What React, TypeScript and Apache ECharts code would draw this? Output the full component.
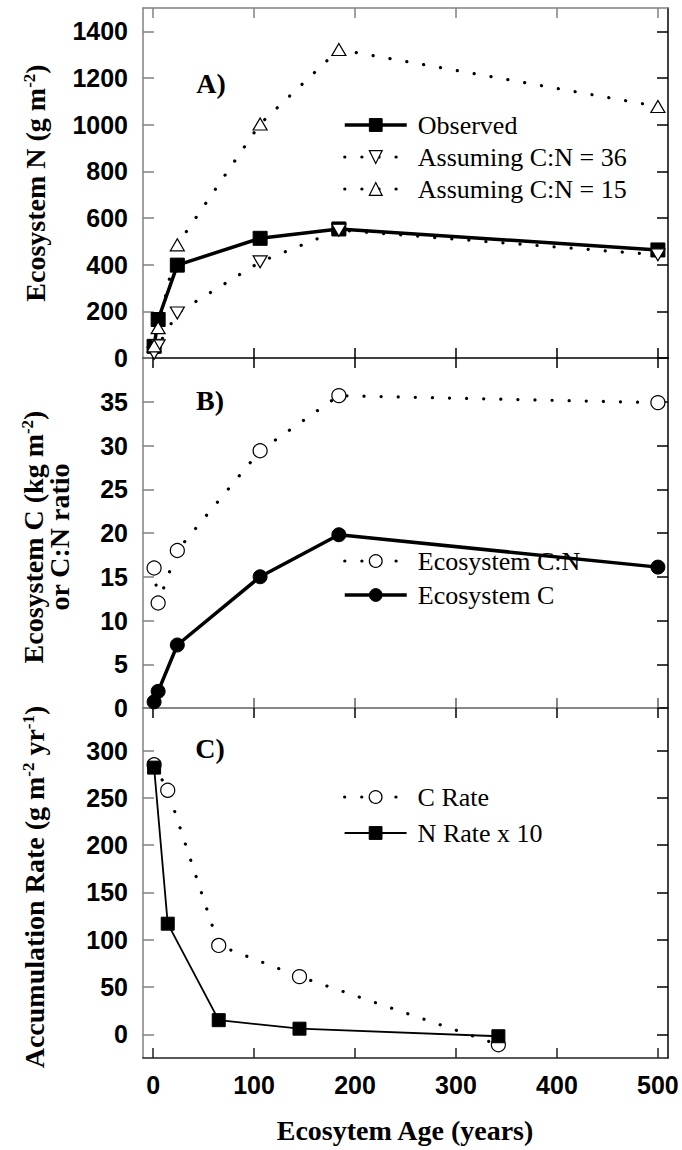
import React, { useEffect, useRef } from 'react';
import * as echarts from 'echarts';

// ---------- data ----------
const ages = [1, 5, 24, 106, 184, 500];
const nObserved = [50, 165, 398, 513, 553, 463];
const nCN36 = [20, 52, 193, 412, 548, 442];
const nCN15 = [52, 130, 485, 1003, 1322, 1078];
const ecoCN = [16.0, 12.0, 18.0, 29.4, 35.7, 34.9];
const ecoC = [0.7, 1.9, 7.2, 15.0, 19.8, 16.1];
const rateAges = [1, 14.5, 65, 145, 342];
const cRate = [285, 258, 94, 61, -11];
const nRate10 = [282, 117, 15, 6, -2];

const xTicks = [0, 100, 200, 300, 400, 500];
const yTicksA = [0, 200, 400, 600, 800, 1000, 1200, 1400];
const yTicksB = [0, 5, 10, 15, 20, 25, 30, 35];
const yTicksC = [0, 50, 100, 150, 200, 250, 300];

const SANS = '"Liberation Sans", Arial, sans-serif';
const SERIF = '"Liberation Serif", "Times New Roman", serif';

const pair = (xs: number[], ys: number[]) => xs.map((x, i) => [x, ys[i]]);

const GRID_LEFT = 143;
const GRID_W = 525;
const GRID_H = 350;
const GRID_TOPS = [8, 358, 708];

const dotted = { color: '#000', width: 3.2, type: [0.1, 17] as any, cap: 'round' as const };
const hollow = { color: '#fff', borderColor: '#000', borderWidth: 1.2 };
const filled = { color: '#000', borderColor: '#000', borderWidth: 1 };

const plain = (v: number) => String(v);

function xAxisDef(gridIndex: number, position: 'top' | 'bottom', opts: { label?: boolean; line?: boolean; lineColor?: string }) {
  return {
    type: 'value',
    gridIndex,
    position,
    min: -10,
    max: 510,
    axisLine: { show: opts.line !== false, onZero: false, lineStyle: { color: opts.lineColor || '#000', width: 1.5 } },
    axisTick: { show: true, inside: true, length: 10, customValues: xTicks, lineStyle: { color: opts.lineColor || '#000', width: 1.5 } },
    axisLabel: {
      show: !!opts.label,
      customValues: xTicks,
      formatter: plain,
      margin: 14,
      color: '#000',
      fontFamily: SANS,
      fontWeight: 'bold',
      fontSize: 25,
    },
    splitLine: { show: false },
  };
}

function yAxisDef(gridIndex: number, position: 'left' | 'right', min: number, max: number, ticks: number[], label: boolean) {
  const color = position === 'left' ? '#808080' : '#000';
  return {
    type: 'value',
    gridIndex,
    position,
    min,
    max,
    axisLine: { show: true, onZero: false, lineStyle: { color, width: 1.5 } },
    axisTick: { show: true, inside: true, length: 11, customValues: ticks, lineStyle: { color, width: 1.5 } },
    axisLabel: {
      show: label,
      customValues: ticks,
      formatter: plain,
      margin: 15,
      color: '#000',
      fontFamily: SANS,
      fontWeight: 'bold',
      fontSize: 25,
    },
    splitLine: { show: false },
  };
}

function legendDef(names: string[], top: number, gap: number) {
  return {
    data: names,
    orient: 'vertical',
    left: 338,
    top,
    itemWidth: 62,
    itemHeight: 16,
    itemGap: gap,
    selectedMode: false,
    lineStyle: { width: 'inherit' },
    itemStyle: { borderWidth: 'inherit' },
    textStyle: { fontFamily: SERIF, fontSize: 26, color: '#000', lineHeight: 26, padding: [0, 0, 0, 6] },
  };
}

const subTitle = (text: string, x: number, y: number) => ({
  type: 'text',
  x,
  y,
  rotation: Math.PI / 2,
  silent: true,
  style: {
    text,
    fontFamily: SERIF,
    fontWeight: 'bold',
    fontSize: 28,
    fill: '#000',
    align: 'center',
    verticalAlign: 'middle',
    rich: {
      sup: { fontFamily: SERIF, fontWeight: 'bold', fontSize: 17, verticalAlign: 'top', fill: '#000' },
    },
  },
});

const panelLabel = (text: string, x: number, y: number) => ({
  type: 'text',
  x,
  y,
  silent: true,
  style: { text, fontFamily: SERIF, fontWeight: 'bold', fontSize: 28, fill: '#000', align: 'center', verticalAlign: 'middle' },
});

export default function App() {
  const ref = useRef<HTMLDivElement>(null);
  useEffect(() => {
    if (!ref.current) return;
    const chart = echarts.init(ref.current, undefined, { renderer: 'svg' });
    const option: any = {
      animation: false,
      backgroundColor: '#fff',
      grid: GRID_TOPS.map((t) => ({ left: GRID_LEFT, top: t, width: GRID_W, height: GRID_H })),
      xAxis: [
        xAxisDef(0, 'bottom', { line: true, lineColor: '#000' }),
        xAxisDef(0, 'top', { line: true, lineColor: '#808080' }),
        xAxisDef(1, 'bottom', { line: true, lineColor: '#606060' }),
        xAxisDef(1, 'top', { line: false, lineColor: '#000' }),
        xAxisDef(2, 'bottom', { line: true, lineColor: '#222', label: true }),
        xAxisDef(2, 'top', { line: false, lineColor: '#000' }),
      ],
      yAxis: [
        yAxisDef(0, 'left', 0, 1500, yTicksA, true),
        yAxisDef(0, 'right', 0, 1500, yTicksA, false),
        yAxisDef(1, 'left', 0, 40, yTicksB, true),
        yAxisDef(1, 'right', 0, 40, yTicksB, false),
        yAxisDef(2, 'left', -25, 345, yTicksC, true),
        yAxisDef(2, 'right', -25, 345, yTicksC, false),
      ],
      legend: [
        legendDef(['Observed', 'Assuming C:N = 36', 'Assuming C:N = 15'], 107, 6),
        legendDef(['Ecosystem C:N', 'Ecosystem C'], 543, 8),
        legendDef(['C Rate', 'N Rate x 10'], 779, 10),
      ],
      series: [
        {
          name: 'Observed', type: 'line', xAxisIndex: 0, yAxisIndex: 0, data: pair(ages, nObserved),
          symbol: 'rect', symbolSize: 14, lineStyle: { color: '#000', width: 3.5 }, itemStyle: filled, silent: true,
        },
        {
          name: 'Assuming C:N = 36', type: 'line', xAxisIndex: 0, yAxisIndex: 0, data: pair(ages, nCN36),
          symbol: 'triangle', symbolRotate: 180, symbolSize: [14, 12], lineStyle: dotted, itemStyle: hollow, silent: true,
        },
        {
          name: 'Assuming C:N = 15', type: 'line', xAxisIndex: 0, yAxisIndex: 0, data: pair(ages, nCN15),
          symbol: 'triangle', symbolSize: [14, 12], lineStyle: dotted, itemStyle: hollow, silent: true,
        },
        {
          name: 'Ecosystem C:N', type: 'line', xAxisIndex: 2, yAxisIndex: 2, data: pair(ages, ecoCN),
          symbol: 'circle', symbolSize: 14, lineStyle: dotted, itemStyle: hollow, silent: true,
        },
        {
          name: 'Ecosystem C', type: 'line', xAxisIndex: 2, yAxisIndex: 2, data: pair(ages, ecoC),
          symbol: 'circle', symbolSize: 14, lineStyle: { color: '#000', width: 3.5 }, itemStyle: filled, silent: true,
        },
        {
          name: 'C Rate', type: 'line', xAxisIndex: 4, yAxisIndex: 4, data: pair(rateAges, cRate),
          symbol: 'circle', symbolSize: 14, lineStyle: dotted, itemStyle: hollow, silent: true,
        },
        {
          name: 'N Rate x 10', type: 'line', xAxisIndex: 4, yAxisIndex: 4, data: pair(rateAges, nRate10),
          symbol: 'rect', symbolSize: 13, lineStyle: { color: '#000', width: 1.8 }, itemStyle: filled, silent: true,
        },
      ],
      graphic: [
        panelLabel('A)', 211, 83),
        panelLabel('B)', 210, 400),
        panelLabel('C)', 210, 748),
        subTitle('Ecosystem N (g m{sup|-2})', 35, 183),
        subTitle('Ecosystem C (kg m{sup|-2})', 33, 537),
        subTitle('or C:N ratio', 59, 537),
        subTitle('Accumulation Rate (g m{sup|-2} yr{sup|-1})', 34, 887),
        {
          type: 'text', x: 405, y: 1130, silent: true,
          style: { text: 'Ecosytem Age (years)', fontFamily: SERIF, fontWeight: 'bold', fontSize: 28, fill: '#000', align: 'center', verticalAlign: 'middle' },
        },
      ],
    };
    chart.setOption(option);
    return () => chart.dispose();
  }, []);
  return <div ref={ref} style={{ position: 'absolute', left: 0, top: 0, width: 682, height: 1150 }} />;
}
